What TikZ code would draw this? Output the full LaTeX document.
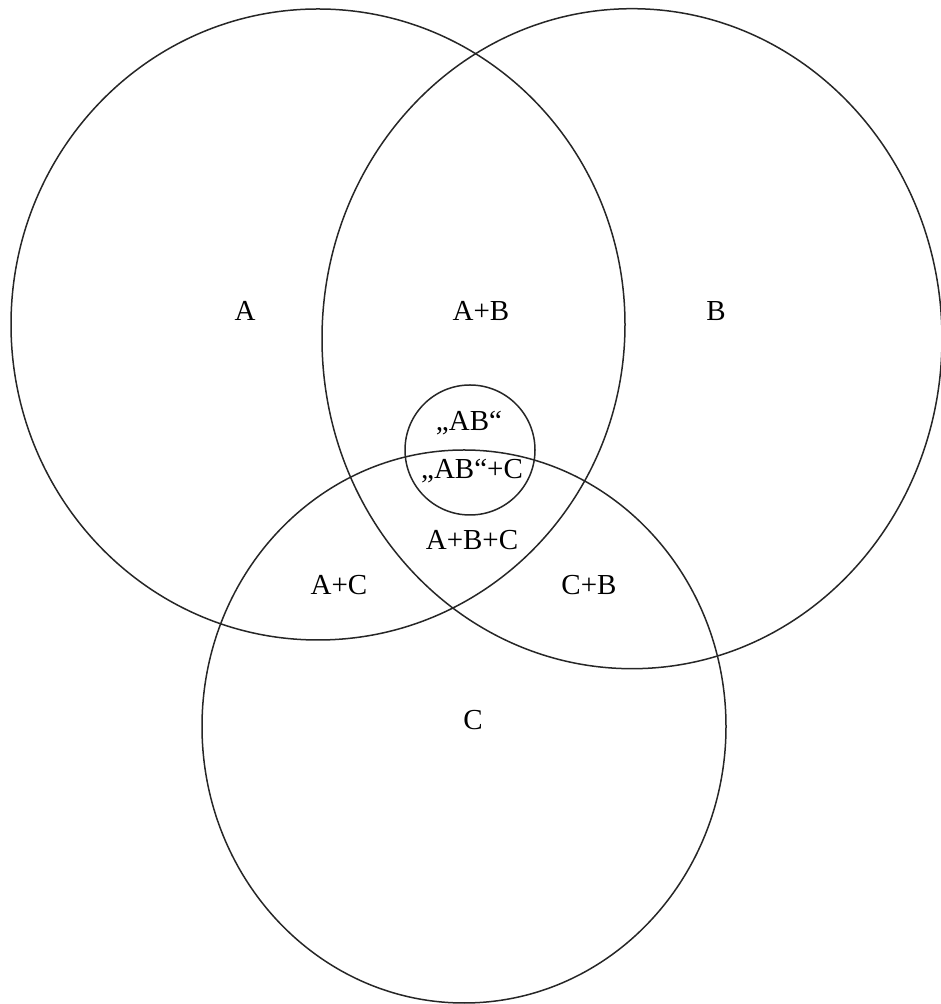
\documentclass[tikz,border=0pt]{standalone}
\usepackage{fontspec}
\setmainfont{Liberation Serif}
\begin{document}
\begin{tikzpicture}[x=1pt,y=1pt,
  ring/.style={draw=black!85,line width=1.5pt},
  lbl/.style={font=\fontsize{29}{32}\selectfont,inner sep=0pt}]
\useasboundingbox (0,0) rectangle (940,1004);
% circles (y measured from top: y_tikz = 1004 - y)
\draw[ring] (318,{1004-324.5}) ellipse [x radius=307, y radius=315.5];
\draw[ring] (632,{1004-338.7}) ellipse [x radius=310, y radius=330];
\draw[ring] (464,{1004-726.5}) ellipse [x radius=262, y radius=276.5];
\draw[ring] (470,{1004-450}) circle [radius=65];
% labels
\node[lbl] (a) at (245,{1004-311}) {A};
\node[lbl] (ab) at (481,{1004-311}) {A+B};
\node[lbl] (b) at (716,{1004-311}) {B};
\node[lbl] (qab) at (469,{1004-423}) {„AB“};
\node[lbl] (qabc) at (472,{1004-471}) {„AB“+C};
\node[lbl] (abc) at (472,{1004-540}) {A+B+C};
\node[lbl] (ac) at (339,{1004-585}) {A+C};
\node[lbl] (cb) at (589,{1004-585}) {C+B};
\node[lbl] (c) at (473,{1004-720}) {C};
\end{tikzpicture}
\end{document}
